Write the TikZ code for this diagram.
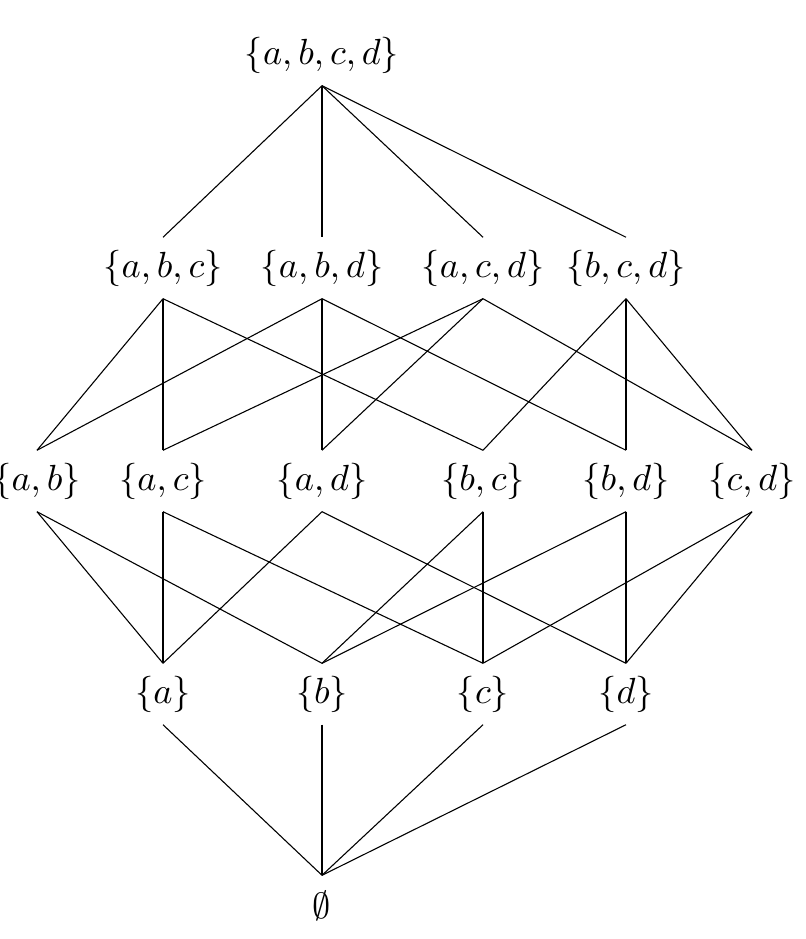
\documentclass[tikz,border=0pt]{standalone}
\usepackage{amsmath}
\usepackage{amssymb}
\usetikzlibrary{positioning}
\tikzstyle{set} = [inner sep=0pt, minimum height=16.5pt]
\tikzstyle{line} = [draw, black, line width=0.3pt]
\begin{document}
\begin{tikzpicture}[x=0.275pt, y=-0.275pt]
  \useasboundingbox (0,0) rectangle (805,939);
  %% top
  \node[set] (abcd) at (322,55) {$\{a,b,c,d\}$};
  %% three elements
  \node[set] (abc) at (163,268) {$\{a,b,c\}$};
  \node[set] (abd) at (322,268) {$\{a,b,d\}$};
  \node[set] (acd) at (483,268) {$\{a,c,d\}$};
  \node[set] (bcd) at (626,268) {$\{b,c,d\}$};
  %% two elements
  \node[set] (ab) at (37,481) {$\{a,b\}$};
  \node[set] (ac) at (163,481) {$\{a,c\}$};
  \node[set] (ad) at (322,481) {$\{a,d\}$};
  \node[set] (bc) at (483,481) {$\{b,c\}$};
  \node[set] (bd) at (626,481) {$\{b,d\}$};
  \node[set] (cd) at (752,481) {$\{c,d\}$};
  %% one element
  \node[set] (a) at (163,694) {$\{a\}$};
  \node[set] (b) at (322,694) {$\{b\}$};
  \node[set] (c) at (483,694) {$\{c\}$};
  \node[set] (d) at (626,694) {$\{d\}$};
  %% empty
  \node[set] (e) at (322,906) {$\emptyset$};
  %% edges
  \path[line](abcd.south) -- (abc.north);
  \path[line](abcd.south) -- (abd.north);
  \path[line](abcd.south) -- (acd.north);
  \path[line](abcd.south) -- (bcd.north);
  \path[line](abc.south) -- (ab.north);
  \path[line](abc.south) -- (ac.north);
  \path[line](abc.south) -- (bc.north);
  \path[line](abd.south) -- (ab.north);
  \path[line](abd.south) -- (ad.north);
  \path[line](abd.south) -- (bd.north);
  \path[line](acd.south) -- (ac.north);
  \path[line](acd.south) -- (ad.north);
  \path[line](acd.south) -- (cd.north);
  \path[line](bcd.south) -- (bc.north);
  \path[line](bcd.south) -- (bd.north);
  \path[line](bcd.south) -- (cd.north);
  \path[line](ab.south) -- (a.north);
  \path[line](ab.south) -- (b.north);
  \path[line](ac.south) -- (a.north);
  \path[line](ac.south) -- (c.north);
  \path[line](ad.south) -- (a.north);
  \path[line](ad.south) -- (d.north);
  \path[line](bc.south) -- (b.north);
  \path[line](bc.south) -- (c.north);
  \path[line](bd.south) -- (b.north);
  \path[line](bd.south) -- (d.north);
  \path[line](cd.south) -- (c.north);
  \path[line](cd.south) -- (d.north);
  \path[line](a.south) -- (e.north);
  \path[line](b.south) -- (e.north);
  \path[line](c.south) -- (e.north);
  \path[line](d.south) -- (e.north);
\end{tikzpicture}
\end{document}
